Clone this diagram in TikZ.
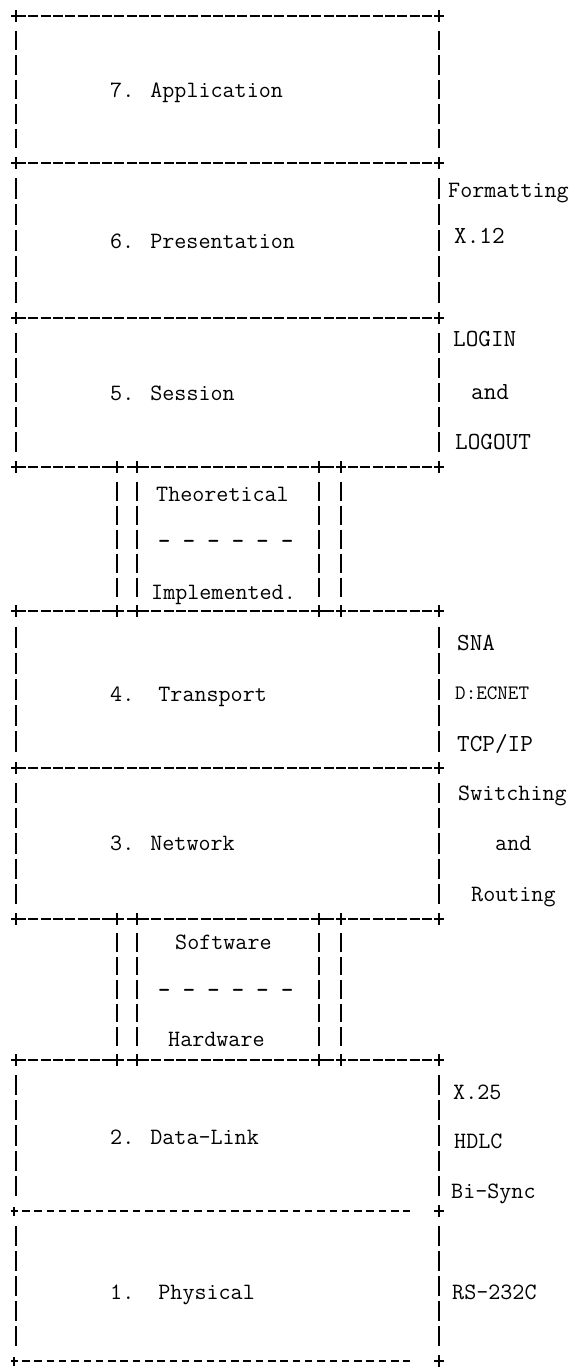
\documentclass[tikz,border=0pt]{standalone}
\usepackage{fontspec}
\begin{document}
\begin{tikzpicture}[x=1pt,y=-1pt,
  hline/.style={line width=2pt, dash pattern=on 10pt off 2.3pt},
  lline/.style={line width=1.4pt, dash pattern=on 7.5pt off 4.8pt},
  vbar/.style={line width=1.5pt},
  lab/.style={anchor=base west, inner sep=0pt, font=\ttfamily\fontsize{23.4}{28}\selectfont},
  slab/.style={anchor=base west, inner sep=0pt, font=\ttfamily\fontsize{20.5}{24}\selectfont},
  tlab/.style={anchor=base west, inner sep=0pt, font=\ttfamily\fontsize{24.5}{28}\selectfont},
  pl/.pic={\draw[line width=1.5pt] (-5,0)--(5,0) (0,-6)--(0,6);},
  spl/.pic={\draw[line width=1.1pt] (-3.5,0)--(3.5,0) (0,-4.5)--(0,4.5);}
]
\useasboundingbox (0,0) rectangle (587,1368);
% vertical bars of the boxes
\foreach \yt/\yb in {16/163,163/318,318/467,611/768,768/919,1060/1211,1211/1361}{
  \foreach \xx in {16,439}{
    \foreach \k in {1,...,5}{
      \pgfmathsetmacro\h{(\yb-\yt)/6}
      \draw[vbar] (\xx,{\yt+\k*\h-\h/2+2.5}) -- (\xx,{\yt+\k*\h+\h/2-2.5});
    }
  }
}
% vertical bars in the gaps
\foreach \yt/\yb in {467/611,919/1060}{
  \foreach \xx in {117,137,319,341}{
    \foreach \k in {1,...,5}{
      \pgfmathsetmacro\h{(\yb-\yt)/6}
      \draw[line width=1.8pt] (\xx,{\yt+\k*\h-\h/2+2.5}) -- (\xx,{\yt+\k*\h+\h/2-2.5});
    }
  }
}
% horizontal lines
\foreach \yy in {16,163,318,467,611,768,919,1060}{
  \draw[hline] (16,\yy) -- (439,\yy);
  \pic at (16,\yy) {pl};
  \pic at (439,\yy) {pl};
}
\foreach \yy in {467,611,919,1060}{
  \foreach \xx in {117,137,319,341}{ \pic at (\xx,\yy) {pl}; }
}
\foreach \yy in {1211,1361}{
  \draw[lline] (22,\yy) -- (410,\yy);
  \pic at (14,\yy) {spl};
  \pic at (439,\yy) {pl};
}
% layer names
\node[lab] (l7) at (110,97) {7. Application};
\node[lab] (l6) at (110,248) {6. Presentation};
\node[lab] (l5) at (110,400) {5. Session};
\node[lab] (l4) at (110,701) {4.~~Transport};
\node[lab] (l3) at (110,850) {3. Network};
\node[lab] (l2) at (110,1144) {2. Data-Link};
\node[lab] (l1) at (110,1299) {1.~~Physical};
% gaps
\node[lab] (th) at (156,501) {Theoretical};
\node[lab, font=\ttfamily\bfseries\fontsize{23.4}{28}\selectfont] (d1) at (158,548) {- - - - - -};
\node[lab] (im) at (151,599) {Implemented.};
\node[lab] (sw) at (175,949) {Software};
\node[lab, font=\ttfamily\bfseries\fontsize{23.4}{28}\selectfont] (d2) at (158,997) {- - - - - -};
\node[lab] (hw) at (168,1046) {Hardware};
% right-hand labels
\node[lab]  (r61) at (448,197) {Formatting};
\node[tlab] (r62) at (454,243) {X.12};
\node[tlab] (r51) at (453,346) {LOGIN};
\node[tlab] (r52) at (471,399) {and};
\node[tlab] (r53) at (455,449) {LOGOUT};
\node[tlab] (r41) at (457,650) {SNA};
\node[slab] (r42) at (455,699) {D:ECNET};
\node[tlab] (r43) at (457,751) {TCP/IP};
\node[lab]  (r31) at (458,800) {Switching};
\node[lab]  (r32) at (495,850) {and};
\node[lab]  (r33) at (471,901) {Routing};
\node[lab]  (r21) at (453,1099) {X.25};
\node[lab]  (r22) at (454,1148) {HDLC};
\node[lab]  (r23) at (451,1198) {Bi-Sync};
\node[lab]  (r11) at (452,1299) {RS-232C};
\end{tikzpicture}
\end{document}
